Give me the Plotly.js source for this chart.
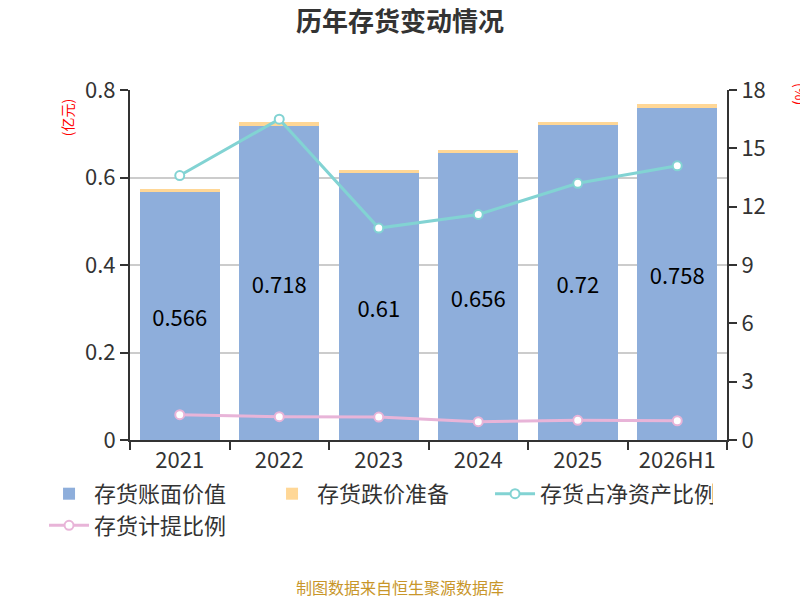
<!doctype html>
<html>
<head>
    <meta charset="utf-8">
    <title>历年存货变动情况</title>
    <script src="https://cdn.plot.ly/plotly-3.0.1.min.js"></script>
    <style>
        body {margin: 0;}
    </style>
</head>
<body>
<div id="chart" style="width:800px;height:600px;"></div>
<script>
    // ====== DATA ==================================================
    const years = ['2021', '2022', '2023', '2024', '2025', '2026H1'];
    const bookValue = [0.566, 0.718, 0.61, 0.656, 0.72, 0.758];      // 存货账面价值 (亿元)
    const impairment = [0.008, 0.009, 0.007, 0.007, 0.008, 0.009];   // 存货跌价准备 (亿元)
    const netAssetRatio = [13.6, 16.5, 10.9, 11.6, 13.2, 14.1];      // 存货占净资产比例 (%)
    const provisionRatio = [1.30, 1.20, 1.18, 0.94, 1.01, 0.99];     // 存货计提比例 (%)
    const leftTicks = [0, 0.2, 0.4, 0.6, 0.8];
    const rightTicks = [0, 3, 6, 9, 12, 15, 18];

    const font = '"Noto Sans CJK SC", "Noto Sans", sans-serif';
    const textColor = '#333333';

    // ====== TRACES ==================================================
    let traces = [
        {
            name: '存货账面价值',
            type: 'bar',
            x: years,
            y: bookValue,
            marker: {color: '#8eaedb'},
            text: bookValue.map(String),
            textposition: 'inside',
            insidetextanchor: 'middle',
            textfont: {color: '#000000', size: 22, family: font},
            hoverinfo: 'skip',
        },
        {
            name: '存货跌价准备',
            type: 'bar',
            x: years,
            y: impairment,
            marker: {color: '#ffd796'},
            textposition: 'none',
            hoverinfo: 'skip',
        },
        {
            name: '存货占净资产比例',
            type: 'scatter',
            mode: 'lines+markers',
            x: years,
            y: netAssetRatio,
            yaxis: 'y2',
            line: {color: '#82d3d3', width: 3},
            marker: {size: 9, color: '#ffffff', line: {color: '#82d3d3', width: 2}},
            hoverinfo: 'skip',
        },
        {
            name: '存货计提比例',
            type: 'scatter',
            mode: 'lines+markers',
            x: years,
            y: provisionRatio,
            yaxis: 'y2',
            line: {color: '#e8b4d8', width: 3},
            marker: {size: 9, color: '#ffffff', line: {color: '#e8b4d8', width: 2}},
            hoverinfo: 'skip',
        },
    ];

    // ====== LAYOUT ==================================================
    let layout = {
        width: 800,
        height: 600,
        margin: {l: 130, r: 73, t: 90, b: 160},
        paper_bgcolor: '#ffffff',
        plot_bgcolor: '#ffffff',
        font: {family: font, color: textColor, size: 22},
        barmode: 'stack',
        bargap: 0.2,
        showlegend: true,
        title: {
            text: '<b>历年存货变动情况</b>',
            font: {size: 26, color: textColor, family: font},
            x: 0.5,
            xanchor: 'center',
            y: 0.963,
            yanchor: 'middle',
        },
        xaxis: {
            type: 'category',
            showline: true,
            linecolor: textColor,
            linewidth: 2,
            ticks: 'outside',
            tickson: 'boundaries',
            ticklen: 8,
            tickwidth: 2,
            tickcolor: textColor,
            tickfont: {size: 22, color: textColor},
            showgrid: false,
            fixedrange: true,
        },
        yaxis: {
            range: [0, 0.8],
            tickmode: 'array',
            tickvals: leftTicks,
            ticktext: leftTicks.map(String),
            showline: true,
            linecolor: textColor,
            linewidth: 2,
            ticks: 'outside',
            ticklen: 8,
            tickwidth: 2,
            tickcolor: textColor,
            tickfont: {size: 22, color: textColor},
            gridcolor: '#cccccc',
            gridwidth: 2,
            zeroline: false,
            fixedrange: true,
        },
        yaxis2: {
            overlaying: 'y',
            side: 'right',
            range: [0, 18],
            tickmode: 'array',
            tickvals: rightTicks,
            showline: true,
            linecolor: textColor,
            linewidth: 2,
            ticks: 'outside',
            ticklen: 8,
            tickwidth: 2,
            tickcolor: textColor,
            tickfont: {size: 22, color: textColor},
            showgrid: false,
            zeroline: false,
            fixedrange: true,
        },
        legend: {
            orientation: 'h',
            traceorder: 'normal',
            x: -0.144,
            y: -0.094,
            xanchor: 'left',
            yanchor: 'top',
            font: {size: 22, color: textColor},
            entrywidth: 168,
            entrywidthmode: 'pixels',
            tracegroupgap: 0,
            itemwidth: 40,
        },
        annotations: [
            {
                text: '(亿元)',
                xref: 'paper', yref: 'paper',
                x: -0.105, y: 0.92,
                xanchor: 'center', yanchor: 'middle',
                textangle: -90,
                showarrow: false,
                font: {size: 14, color: '#ff0000'},
            },
            {
                text: '(%)',
                xref: 'paper', yref: 'paper',
                x: 1.125, y: 0.99,
                xanchor: 'center', yanchor: 'middle',
                textangle: 90,
                showarrow: false,
                font: {size: 14, color: '#ff0000'},
            },
            {
                text: '制图数据来自恒生聚源数据库',
                xref: 'paper', yref: 'paper',
                x: 0.452, y: -0.42,
                xanchor: 'center', yanchor: 'middle',
                showarrow: false,
                font: {size: 16, color: '#c8962a'},
            },
        ],
    };

    let config = {
        displayModeBar: false,
        staticPlot: true,
    };

    Plotly.newPlot(document.getElementById('chart'), traces, layout, config);
</script>
</body>
</html>
